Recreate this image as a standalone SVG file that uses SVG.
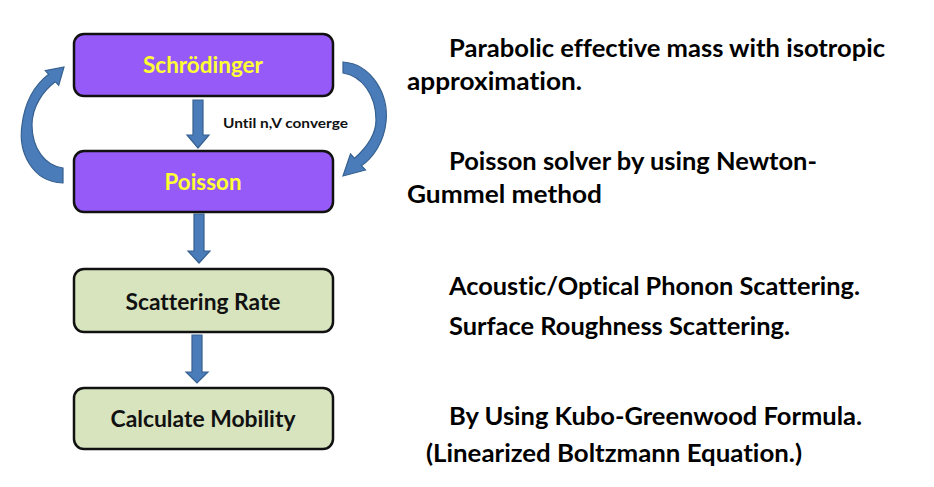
<svg xmlns="http://www.w3.org/2000/svg" width="934" height="487" viewBox="0 0 934 487">
  <style>
    .box { stroke: #111; stroke-width: 2.5; }
    .solve { fill: #955af7; }
    .post { fill: #d7e4bd; }
    .t { font-family: Lato, "Open Sans", "Liberation Sans", sans-serif; font-weight: bold; font-variant-ligatures: none; }
    .yl { fill: #ffff33; font-size: 23px; }
    .bk { fill: #111; font-size: 22px; }
    .note { fill: #000; font-size: 24px; }
    .arrow { fill: #4a7cb9; stroke: #36608f; stroke-width: 1.2; }
  </style>
  <rect width="934" height="487" fill="#fff"/>

  <!-- connectors -->
  <g id="connectors">
    <!-- Schrödinger -> Poisson -->
    <path class="arrow" d="M193,100 H203 V135 H209 L198,148 L187,135 H193 Z"/>
    <!-- Poisson -> Scattering Rate -->
    <path class="arrow" d="M194,214 H204 V251 H210 L199,263 L188,251 H194 Z"/>
    <!-- Scattering Rate -> Calculate Mobility -->
    <path class="arrow" d="M192,335 H202 V372 H208 L197,383 L186,372 H192 Z"/>
    <!-- loop back: Poisson -> Schrödinger (left) -->
    <path class="arrow" d="M63,183 C32,182 18,152 22,125 C25,101 36,84 48.7,74.3 L45.3,70.6 L64,67 L58.7,85.4 L55.4,81.7 C44,90 32,106 32,125 C32,148 45,166 63,168 Z"/>
    <!-- loop: Schrödinger -> Poisson (right) -->
    <path class="arrow" d="M343,62 C372,64 389,95 386,122 C384,142 373,158 361.4,165.7 L365.5,170 L343,176 L350.5,154 L354.6,158.3 C366,148 376,135 376,120 C376,95 362,76 343,73 Z"/>
    <text class="t" x="223" y="128" font-size="14" fill="#111" textLength="125" lengthAdjust="spacingAndGlyphs">Until n,V converge</text>
  </g>

  <g id="schrodinger">
    <rect class="box solve" x="74" y="34" width="259" height="62" rx="10"/>
    <text class="t yl" x="203" y="73" text-anchor="middle" textLength="120" lengthAdjust="spacingAndGlyphs">Schrödinger</text>
  </g>

  <g id="poisson">
    <rect class="box solve" x="74" y="151" width="259" height="61" rx="10"/>
    <text class="t yl" x="203" y="190" text-anchor="middle" textLength="77" lengthAdjust="spacingAndGlyphs">Poisson</text>
  </g>

  <g id="scattering-rate">
    <rect class="box post" x="74" y="269" width="259" height="63" rx="10"/>
    <text class="t bk" x="203" y="310" text-anchor="middle" textLength="155" lengthAdjust="spacingAndGlyphs">Scattering Rate</text>
  </g>

  <g id="calculate-mobility">
    <rect class="box post" x="74" y="388" width="259" height="61" rx="10"/>
    <text class="t bk" x="203" y="427" text-anchor="middle" textLength="185" lengthAdjust="spacingAndGlyphs">Calculate Mobility</text>
  </g>

  <!-- descriptions -->
  <g id="notes">
    <text class="t note" x="449" y="57" textLength="436" lengthAdjust="spacingAndGlyphs">Parabolic effective mass with isotropic</text>
    <text class="t note" x="407" y="90" textLength="175" lengthAdjust="spacingAndGlyphs">approximation.</text>
    <text class="t note" x="449" y="170" textLength="368" lengthAdjust="spacingAndGlyphs">Poisson solver by using Newton-</text>
    <text class="t note" x="407" y="203" textLength="195" lengthAdjust="spacingAndGlyphs">Gummel method</text>
    <text class="t note" x="449" y="295" textLength="411" lengthAdjust="spacingAndGlyphs">Acoustic/Optical Phonon Scattering.</text>
    <text class="t note" x="449" y="335" textLength="341" lengthAdjust="spacingAndGlyphs">Surface Roughness Scattering.</text>
    <text class="t note" x="449" y="425" textLength="413" lengthAdjust="spacingAndGlyphs">By Using Kubo-Greenwood Formula.</text>
    <text class="t note" x="426" y="462" textLength="376" lengthAdjust="spacingAndGlyphs">(Linearized Boltzmann Equation.)</text>
  </g>
</svg>
